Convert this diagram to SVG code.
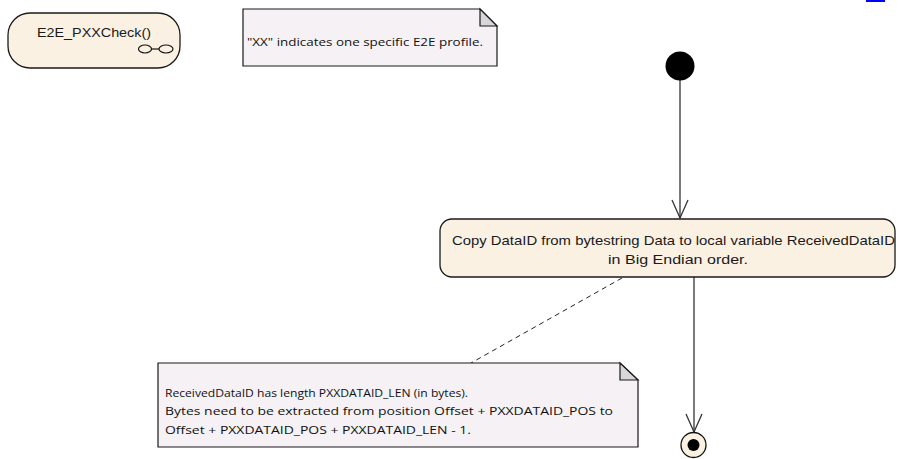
<svg xmlns="http://www.w3.org/2000/svg" width="898" height="459" viewBox="0 0 898 459">
<defs>
<style>
.act{fill:#FBF1E3;stroke:#1a1a1a;stroke-width:1.3}
.note{fill:#F5F1F5;stroke:#1a1a1a;stroke-width:1.2}
.fold{fill:#D9D6D9;stroke:#1a1a1a;stroke-width:1.2}
.edge{fill:none;stroke:#333;stroke-width:1.3}
.dash{fill:none;stroke:#222;stroke-width:1;stroke-dasharray:5,4}
.tA{font-family:"Liberation Sans",Arial,sans-serif;font-size:13px;fill:#1a1a1a}
.tN{font-family:"Open Sans","Noto Sans",sans-serif;font-size:11.5px;fill:#111}
</style>
<marker id="open" markerWidth="22" markerHeight="20" refX="19" refY="9" orient="auto" markerUnits="userSpaceOnUse">
<path d="M1,1 L19,9 L1,17" fill="none" stroke="#333" stroke-width="1.3"/>
</marker>
</defs>

<g id="clipped-top">
<rect x="866" y="0" width="19" height="2" fill="#0000ff"/>
</g>

<g id="connectors">
<line class="edge" x1="680" y1="80" x2="680" y2="218" marker-end="url(#open)"/>
<line class="edge" x1="694" y1="277" x2="694" y2="432" marker-end="url(#open)"/>
<line class="dash" x1="622" y1="278" x2="471" y2="363"/>
</g>

<g id="E2E_PXXCheck">
<rect class="act" x="8" y="13" width="172" height="55" rx="22" ry="22"/>
<text class="tA" x="94" y="37" text-anchor="middle" style="font-size:12px" textLength="114" lengthAdjust="spacingAndGlyphs">E2E_PXXCheck()</text>
<ellipse cx="145" cy="49" rx="6.5" ry="4" fill="none" stroke="#111" stroke-width="1.2"/>
<ellipse cx="166" cy="49" rx="7" ry="4" fill="none" stroke="#111" stroke-width="1.2"/>
<line x1="151.5" y1="49" x2="159" y2="49" stroke="#111" stroke-width="1.2"/>
</g>

<g id="note1">
<path class="note" d="M243,9 H480 L497,26 V66 H243 Z"/>
<path class="fold" d="M480,9 V26 H497 Z"/>
<text class="tN" x="247" y="46" style="font-size:11px" textLength="236" lengthAdjust="spacingAndGlyphs">"XX" indicates one specific E2E profile.</text>
</g>

<g id="initial">
<circle cx="680" cy="66" r="14.5" fill="#000"/>
</g>

<g id="copyAction">
<rect class="act" x="440" y="219" width="455" height="58" rx="12" ry="12"/>
<text class="tA" x="452" y="245" textLength="443" lengthAdjust="spacingAndGlyphs">Copy DataID from bytestring Data to local variable ReceivedDataID</text>
<text class="tA" x="608" y="264" textLength="140" lengthAdjust="spacingAndGlyphs">in Big Endian order.</text>
</g>

<g id="note2">
<path class="note" d="M158,363 H620 L638,380 V447 H158 Z"/>
<path class="fold" d="M620,363 V380 H638 Z"/>
<text class="tN" x="165" y="397" textLength="303" lengthAdjust="spacingAndGlyphs">ReceivedDataID has length PXXDATAID_LEN (in bytes).</text>
<text class="tN" x="165" y="415" textLength="448" lengthAdjust="spacingAndGlyphs">Bytes need to be extracted from position Offset + PXXDATAID_POS to</text>
<text class="tN" x="165" y="434" textLength="306" lengthAdjust="spacingAndGlyphs">Offset + PXXDATAID_POS + PXXDATAID_LEN - 1.</text>
</g>

<g id="final">
<circle cx="693.5" cy="445" r="12.5" fill="#FBF1E3" stroke="#111" stroke-width="1.3"/>
<circle cx="693.5" cy="445" r="6" fill="#000"/>
</g>
</svg>
